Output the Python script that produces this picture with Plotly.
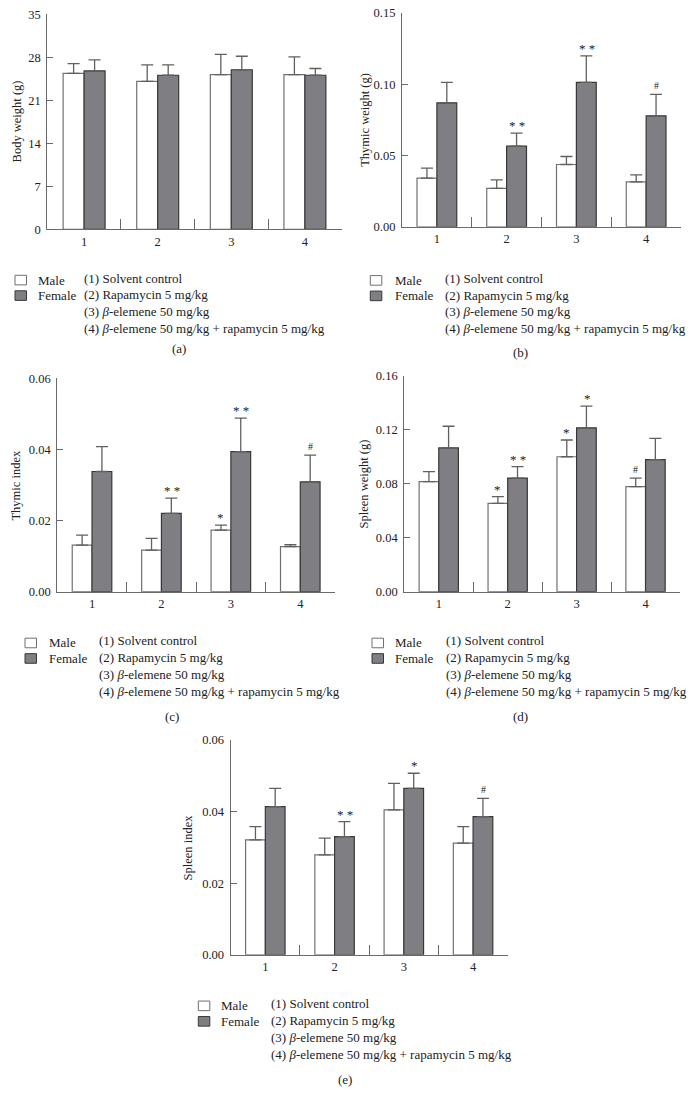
import plotly.graph_objects as go

W, H = 694, 1106
GROUPS = ["1", "2", "3", "4"]

# (a) body weight (g)
BODY_MALE = [25.4, 24.1, 25.2, 25.2]
BODY_MALE_ERR = [1.6, 2.7, 3.3, 2.9]
BODY_FEMALE = [25.8, 25.1, 26.0, 25.1]
BODY_FEMALE_ERR = [1.8, 1.7, 2.2, 1.1]

# (b) thymic weight (g)
THYW_MALE = [0.0341, 0.0269, 0.0437, 0.0315]
THYW_MALE_ERR = [0.0070, 0.0060, 0.0056, 0.0049]
THYW_FEMALE = [0.0869, 0.0565, 0.1012, 0.0778]
THYW_FEMALE_ERR = [0.0143, 0.0092, 0.0187, 0.0150]
THYW_MALE_SIG = ["", "", "", ""]
THYW_FEMALE_SIG = ["", "* *", "* *", "#"]

# (c) thymic index
THYI_MALE = [0.0131, 0.0117, 0.0173, 0.0127]
THYI_MALE_ERR = [0.0028, 0.0033, 0.0014, 0.0005]
THYI_FEMALE = [0.0338, 0.0220, 0.0394, 0.0309]
THYI_FEMALE_ERR = [0.0070, 0.0043, 0.0094, 0.0075]
THYI_MALE_SIG = ["", "", "*", ""]
THYI_FEMALE_SIG = ["", "* *", "* *", "#"]

# (d) spleen weight (g)
SPLW_MALE = [0.0815, 0.0655, 0.1000, 0.0778]
SPLW_MALE_ERR = [0.0074, 0.0050, 0.0124, 0.0064]
SPLW_FEMALE = [0.1065, 0.0842, 0.1214, 0.0978]
SPLW_FEMALE_ERR = [0.0161, 0.0084, 0.0161, 0.0158]
SPLW_MALE_SIG = ["", "*", "*", "#"]
SPLW_FEMALE_SIG = ["", "* *", "*", ""]

# (e) spleen index
SPLI_MALE = [0.0321, 0.0279, 0.0405, 0.0312]
SPLI_MALE_ERR = [0.0037, 0.0047, 0.0074, 0.0046]
SPLI_FEMALE = [0.0414, 0.0330, 0.0465, 0.0386]
SPLI_FEMALE_ERR = [0.0051, 0.0042, 0.0042, 0.0051]
SPLI_MALE_SIG = ["", "", "", ""]
SPLI_FEMALE_SIG = ["", "* *", "*", "#"]

TREATMENTS = [
    "(1) Solvent control",
    "(2) Rapamycin 5 mg/kg",
    "(3) <i>β</i>-elemene 50 mg/kg",
    "(4) <i>β</i>-elemene 50 mg/kg + rapamycin 5 mg/kg",
]

FONT = "Liberation Serif"
TEXT_COLOR = "#222222"
AXIS_COLOR = "#6a6a6a"
MALE_FILL, MALE_LINE = "#ffffff", "#707070"
FEMALE_FILL, FEMALE_LINE = "#7f7f83", "#383838"
VSTRETCH = 1.0125


def px(x):
    return x / W


def py(y):
    y = H / 2 + (y - H / 2) * VSTRETCH
    return 1 - y / H


# panel layout in pixels: plot x0, x1, y of zero line, y of top, label x, legend spots
PANELS = [
    dict(name="a", title="Body weight (g)", ymax=35, dtick=7, fmt="d",
         x0=47.3, x1=341.7, yb=229.3, yt=14.3, lab_x=16.5,
         data=(BODY_MALE, BODY_MALE_ERR, BODY_FEMALE, BODY_FEMALE_ERR, None, None),
         leg=dict(box=15, txt=36, grp=81.7, y=278, cx=179.3, cy=348)),
    dict(name="b", title="Thymic weight (g)", ymax=0.15, dtick=0.05, fmt=".2f",
         x0=402, x1=681, yb=226.7, yt=12.7, lab_x=365,
         data=(THYW_MALE, THYW_MALE_ERR, THYW_FEMALE, THYW_FEMALE_ERR, THYW_MALE_SIG, THYW_FEMALE_SIG),
         leg=dict(box=370.3, txt=392.7, grp=443, y=278.3, cx=520, cy=352)),
    dict(name="c", title="Thymic index", ymax=0.06, dtick=0.02, fmt=".2f",
         x0=57.3, x1=335, yb=591.7, yt=378.3, lab_x=16.5,
         data=(THYI_MALE, THYI_MALE_ERR, THYI_FEMALE, THYI_FEMALE_ERR, THYI_MALE_SIG, THYI_FEMALE_SIG),
         leg=dict(box=25, txt=46.7, grp=96.7, y=641, cx=171.7, cy=716.7)),
    dict(name="d", title="Spleen weight (g)", ymax=0.16, dtick=0.04, fmt=".2f",
         x0=404.3, x1=680, yb=591.7, yt=375.7, lab_x=363.7,
         data=(SPLW_MALE, SPLW_MALE_ERR, SPLW_FEMALE, SPLW_FEMALE_ERR, SPLW_MALE_SIG, SPLW_FEMALE_SIG),
         leg=dict(box=372, txt=393, grp=443.7, y=641, cx=520.3, cy=716.7)),
    dict(name="e", title="Spleen index", ymax=0.06, dtick=0.02, fmt=".2f",
         x0=230.7, x1=507.7, yb=955, yt=740, lab_x=188,
         data=(SPLI_MALE, SPLI_MALE_ERR, SPLI_FEMALE, SPLI_FEMALE_ERR, SPLI_MALE_SIG, SPLI_FEMALE_SIG),
         leg=dict(box=198.3, txt=219.3, grp=269.3, y=1004, cx=345, cy=1080)),
]

fig = go.Figure()
annotations = []
shapes = []
layout_axes = {}

for i, p in enumerate(PANELS, start=1):
    xa = "x" if i == 1 else f"x{i}"
    ya = "y" if i == 1 else f"y{i}"
    male, male_err, female, female_err, male_sig, female_sig = p["data"]
    bar_px = 21.0

    for vals, errs, fill, line, off in [
        (male, male_err, MALE_FILL, MALE_LINE, "m"),
        (female, female_err, FEMALE_FILL, FEMALE_LINE, "f"),
    ]:
        fig.add_trace(
            go.Bar(
                x=GROUPS,
                y=vals,
                xaxis=xa,
                yaxis=ya,
                offsetgroup=off,
                marker={"color": fill, "line": {"color": line, "width": 1.2}},
                error_y={
                    "type": "data",
                    "symmetric": False,
                    "array": errs,
                    "arrayminus": [0] * len(errs),
                    "color": "#606060",
                    "thickness": 1.3,
                    "width": 6,
                },
                showlegend=False,
            )
        )

    # significance marks above the error bars (x given as category index)
    for sigs, vals, errs, shift in [
        (male_sig, male, male_err, -bar_px / 2),
        (female_sig, female, female_err, bar_px / 2),
    ]:
        if sigs is None:
            continue
        for k, (s, v, e) in enumerate(zip(sigs, vals, errs)):
            if not s:
                continue
            annotations.append(
                {
                    "x": k,
                    "y": v + e,
                    "xref": xa,
                    "yref": ya,
                    "xshift": shift,
                    "yshift": -2 if "*" in s else 1,
                    "xanchor": "center",
                    "yanchor": "bottom",
                    "showarrow": False,
                    "text": s,
                    "font": {"family": FONT, "size": 13 if "*" in s else 10, "color": TEXT_COLOR},
                }
            )

    axis_common = {
        "showline": True,
        "linecolor": AXIS_COLOR,
        "linewidth": 1.2,
        "showgrid": False,
        "zeroline": False,
        "ticks": "inside",
        "tickcolor": AXIS_COLOR,
        "tickwidth": 1.2,
        "tickfont": {"family": FONT, "size": 12.5, "color": TEXT_COLOR},
    }
    layout_axes["xaxis" if i == 1 else f"xaxis{i}"] = dict(
        axis_common,
        type="category",
        categoryarray=GROUPS,
        range=[-0.5, len(GROUPS) - 0.5],
        tickson="boundaries",
        ticklen=10,
        domain=[px(p["x0"]), px(p["x1"])],
        anchor=ya,
    )
    layout_axes["yaxis" if i == 1 else f"yaxis{i}"] = dict(
        axis_common,
        range=[0, p["ymax"]],
        tick0=0,
        dtick=p["dtick"],
        tickformat=p["fmt"],
        ticklen=6,
        ticklabelstandoff=3,
        domain=[py(p["yb"]), py(p["yt"])],
        anchor=xa,
    )

    annotations.append(
        {
            "x": px(p["lab_x"]),
            "y": py((p["yb"] + p["yt"]) / 2),
            "xref": "paper",
            "yref": "paper",
            "xanchor": "center",
            "yanchor": "middle",
            "textangle": -90,
            "showarrow": False,
            "text": p["title"],
            "font": {"family": FONT, "size": 12.5, "color": TEXT_COLOR},
        }
    )

    # legend block drawn under each panel
    lg = p["leg"]
    for k, (label, fill, line) in enumerate(
        [("Male", MALE_FILL, MALE_LINE), ("Female", FEMALE_FILL, FEMALE_LINE)]
    ):
        cy = lg["y"] + 2 + 15.5 * k
        shapes.append(
            {
                "type": "rect",
                "xref": "paper",
                "yref": "paper",
                "x0": px(lg["box"]),
                "x1": px(lg["box"] + 11.5),
                "y0": py(cy - 4.8),
                "y1": py(cy + 4.8),
                "fillcolor": fill,
                "line": {"color": line, "width": 1},
            }
        )
        annotations.append(
            {
                "x": px(lg["txt"]),
                "y": py(cy),
                "xref": "paper",
                "yref": "paper",
                "xanchor": "left",
                "yanchor": "middle",
                "showarrow": False,
                "text": label,
                "font": {"family": FONT, "size": 13, "color": TEXT_COLOR},
            }
        )
    for k, t in enumerate(TREATMENTS):
        annotations.append(
            {
                "x": px(lg["grp"]),
                "y": py(lg["y"] + 16.8 * k),
                "xref": "paper",
                "yref": "paper",
                "xanchor": "left",
                "yanchor": "middle",
                "showarrow": False,
                "text": t,
                "font": {"family": FONT, "size": 13, "color": TEXT_COLOR},
            }
        )
    annotations.append(
        {
            "x": px(lg["cx"]),
            "y": py(lg["cy"]),
            "xref": "paper",
            "yref": "paper",
            "xanchor": "center",
            "yanchor": "middle",
            "showarrow": False,
            "text": f"({p['name']})",
            "font": {"family": FONT, "size": 13, "color": TEXT_COLOR},
        }
    )

fig.update_layout(
    width=W,
    height=H,
    margin={"l": 0, "r": 0, "t": 0, "b": 0},
    paper_bgcolor="white",
    plot_bgcolor="white",
    barmode="group",
    bargap=0.43,
    bargroupgap=0,
    showlegend=False,
    annotations=annotations,
    shapes=shapes,
    **layout_axes,
)

# page body margin would push the fixed-size figure off the window
fig.write_html(
    "out.html",
    config={"displayModeBar": False},
    post_script="document.body.style.margin='0';document.body.style.overflow='hidden';",
)
